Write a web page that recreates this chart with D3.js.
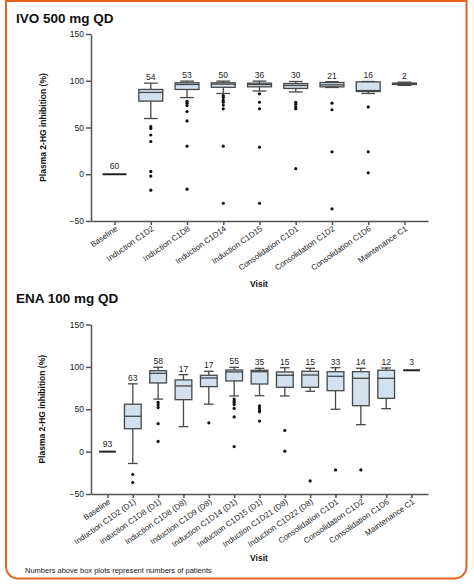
<!DOCTYPE html>
<html>
<head>
<meta charset="utf-8">
<script src="https://cdn.jsdelivr.net/npm/d3@7"></script>
<style>
  body { margin: 0; background: #fff; }
  svg text { font-family: Arial, "Liberation Sans", sans-serif; }
</style>
</head>
<body>
<svg id="chart" width="474" height="584"></svg>
<script>
var yTicks = [-50, 0, 50, 100, 150];

// IVO 500 mg QD
var ivoVisits = ["Baseline", "Induction C1D2", "Induction C1D8", "Induction C1D14", "Induction C1D15",
  "Consolidation C1D1", "Consolidation C1D2", "Consolidation C1D6", "Maintenance C1"];
var ivoCounts = [60, 54, 53, 50, 36, 30, 21, 16, 2];
// [lower whisker, q1, median, q3, upper whisker]
var ivoBoxes = [
  [0, 0, 0, 0, 0],
  [59.6, 78.2, 87.5, 90.7, 97.4],
  [82, 90.7, 96, 97.8, 99.6],
  [86.4, 93, 96.4, 97.8, 99.6],
  [89, 93.5, 96, 97.4, 99.6],
  [88, 91.8, 95, 97, 99.2],
  [92.8, 93.5, 95.6, 98.1, 99],
  [86.4, 88.5, 89.5, 98.8, 99.2],
  [95, 96, 96.8, 97.5, 98.5]
];
var ivoOutliers = [
  [],
  [51, 49, 42, 35, 3, -2, -17],
  [78, 76, 73.5, 67, 57, 30, -16],
  [84, 82, 79, 77, 74, 70, 30, -31],
  [86, 77, 70, 29, -31],
  [77, 75, 72, 70, 6],
  [76, 69, 24, -37],
  [72, 24, 1.5],
  []
];

// ENA 100 mg QD
var enaVisits = ["Baseline", "Induction C1D2 (D1)", "Induction C1D8 (D1)", "Induction C1D8 (D8)",
  "Induction C1D9 (D8)", "Induction C1D14 (D1)", "Induction C1D15 (D1)", "Induction C1D21 (D8)",
  "Induction C1D22 (D8)", "Consolidation C1D1", "Consolidation C1D2", "Consolidation C1D6", "Maintenance C1"];
var enaCounts = [93, 63, 58, 17, 17, 55, 35, 15, 15, 33, 14, 12, 3];
var enaBoxes = [
  [0, 0, 0, 0, 0],
  [-14, 27, 41.7, 56, 80],
  [62, 81, 92.4, 95.5, 99.5],
  [29.5, 61.3, 77.5, 84.6, 90.8],
  [56, 76.7, 86.9, 90.1, 94.8],
  [65.7, 83.4, 94, 96.3, 99.5],
  [66, 79.8, 94.3, 96, 98.3],
  [65.7, 75.9, 90.1, 94, 99],
  [71.2, 75.9, 90.4, 94.8, 98.3],
  [50, 71.9, 88.9, 94.3, 99],
  [31.8, 54.2, 86.5, 94.3, 98.3],
  [50.7, 62.9, 86.5, 96, 98.7],
  [96, 96, 96, 96, 96]
];
var enaOutliers = [
  [],
  [-27, -36.5],
  [58, 55, 52, 33, 12],
  [],
  [34],
  [62, 60, 58, 55.5, 51, 41, 6],
  [54, 51.5, 49, 47, 36],
  [25, 0.5],
  [-34.6],
  [-21.6],
  [-21.6],
  [],
  []
];

var svg = d3.select("#chart");

// orange frame, top edge runs off the page
svg.append("path")
  .attr("d", "M6,1 H466.5 V566.5 A12,12 0 0 1 454.5,578.5 H18 A12,12 0 0 1 6,566.5 Z")
  .attr("fill", "#fff")
  .attr("stroke", "#e8641e")
  .attr("stroke-width", 2);

var axisColor = "#555";
var boxStroke = "#474747";
var boxFill = "#d2e1ed";

function drawPanel(o) {
  var g = svg.append("g");

  g.append("text")
    .attr("x", 16).attr("y", o.titleY)
    .attr("font-size", 13.5).attr("font-weight", "bold")
    .attr("fill", "#111")
    .text(o.title);

  var y = d3.scaleLinear().domain([-50, 150]).range([o.bottom, o.top]);
  var x = d3.scalePoint().domain(o.visits).range([91, 428]).padding(0.65);
  var step = x.step();
  var bw = step * 0.66, cw = step * 0.38;

  var yAxis = g.append("g")
    .attr("transform", "translate(91,0)")
    .call(d3.axisLeft(y).tickValues(yTicks).tickSize(5).tickSizeOuter(0).tickFormat(d3.format("d")));
  yAxis.selectAll("text").attr("font-size", 8.5).attr("fill", "#222").attr("x", -7);

  var xAxis = g.append("g")
    .attr("transform", "translate(0," + o.bottom + ")")
    .call(d3.axisBottom(x).tickSize(4).tickSizeOuter(0));
  xAxis.selectAll("text")
    .attr("font-size", 8).attr("fill", "#222")
    .attr("text-anchor", "end")
    .attr("x", null).attr("y", null).attr("dy", null)
    .attr("transform", "translate(3,9) rotate(-35)");

  [yAxis, xAxis].forEach(function (a) {
    a.selectAll("path, line").attr("stroke", axisColor).attr("stroke-width", 1.5);
  });

  g.append("text")
    .attr("transform", "translate(" + o.ylabX + "," + ((o.top + o.bottom) / 2) + ") rotate(-90)")
    .attr("text-anchor", "middle")
    .attr("font-size", 8.5).attr("font-weight", "bold").attr("fill", "#111")
    .text("Plasma 2-HG inhibition (%)");

  g.append("text")
    .attr("x", 259).attr("y", o.visitY)
    .attr("text-anchor", "middle")
    .attr("font-size", 8.5).attr("font-weight", "bold").attr("fill", "#111")
    .text("Visit");

  o.visits.forEach(function (v, i) {
    var b = o.boxes[i], cx = x(v);
    var bg = g.append("g");
    if (b[4] - b[0] === 0) {
      bg.append("line")
        .attr("x1", cx - bw / 2).attr("x2", cx + bw / 2)
        .attr("y1", y(b[2])).attr("y2", y(b[2]))
        .attr("stroke", "#222").attr("stroke-width", 2);
      bg.append("text")
        .attr("x", cx).attr("y", y(b[2]) - 5)
        .attr("text-anchor", "middle").attr("font-size", 8.5).attr("fill", "#222")
        .text(o.counts[i]);
      return;
    }
    // whiskers
    bg.append("line")
      .attr("x1", cx).attr("x2", cx).attr("y1", y(b[0])).attr("y2", y(b[4]))
      .attr("stroke", boxStroke).attr("stroke-width", 1.3);
    [b[0], b[4]].forEach(function (w) {
      bg.append("line")
        .attr("x1", cx - cw / 2).attr("x2", cx + cw / 2)
        .attr("y1", y(w)).attr("y2", y(w))
        .attr("stroke", boxStroke).attr("stroke-width", 1.3);
    });
    bg.append("rect")
      .attr("x", cx - bw / 2).attr("width", bw)
      .attr("y", y(b[3])).attr("height", y(b[1]) - y(b[3]))
      .attr("fill", boxFill).attr("stroke", boxStroke).attr("stroke-width", 1.3);
    bg.append("line")
      .attr("x1", cx - bw / 2).attr("x2", cx + bw / 2)
      .attr("y1", y(b[2])).attr("y2", y(b[2]))
      .attr("stroke", boxStroke).attr("stroke-width", 1.3);
    bg.selectAll("circle.out")
      .data(o.outliers[i]).enter().append("circle")
      .attr("class", "out")
      .attr("cx", cx).attr("cy", function (d) { return y(d); })
      .attr("r", 1.6).attr("fill", "#111");
    bg.append("text")
      .attr("x", cx).attr("y", y(b[4]) - 3)
      .attr("text-anchor", "middle").attr("font-size", 8.5).attr("fill", "#222")
      .text(o.counts[i]);
  });
}

drawPanel({
  title: "IVO 500 mg QD", titleY: 22.5,
  top: 34, bottom: 221, ylabX: 46, visitY: 286.5,
  visits: ivoVisits, counts: ivoCounts, boxes: ivoBoxes, outliers: ivoOutliers
});

drawPanel({
  title: "ENA 100 mg QD", titleY: 302.5,
  top: 324.5, bottom: 494, ylabX: 45, visitY: 561,
  visits: enaVisits, counts: enaCounts, boxes: enaBoxes, outliers: enaOutliers
});

svg.append("text")
  .attr("x", 25).attr("y", 573)
  .attr("font-size", 7.5).attr("fill", "#222")
  .text("Numbers above box plots represent numbers of patients");
</script>
</body>
</html>
